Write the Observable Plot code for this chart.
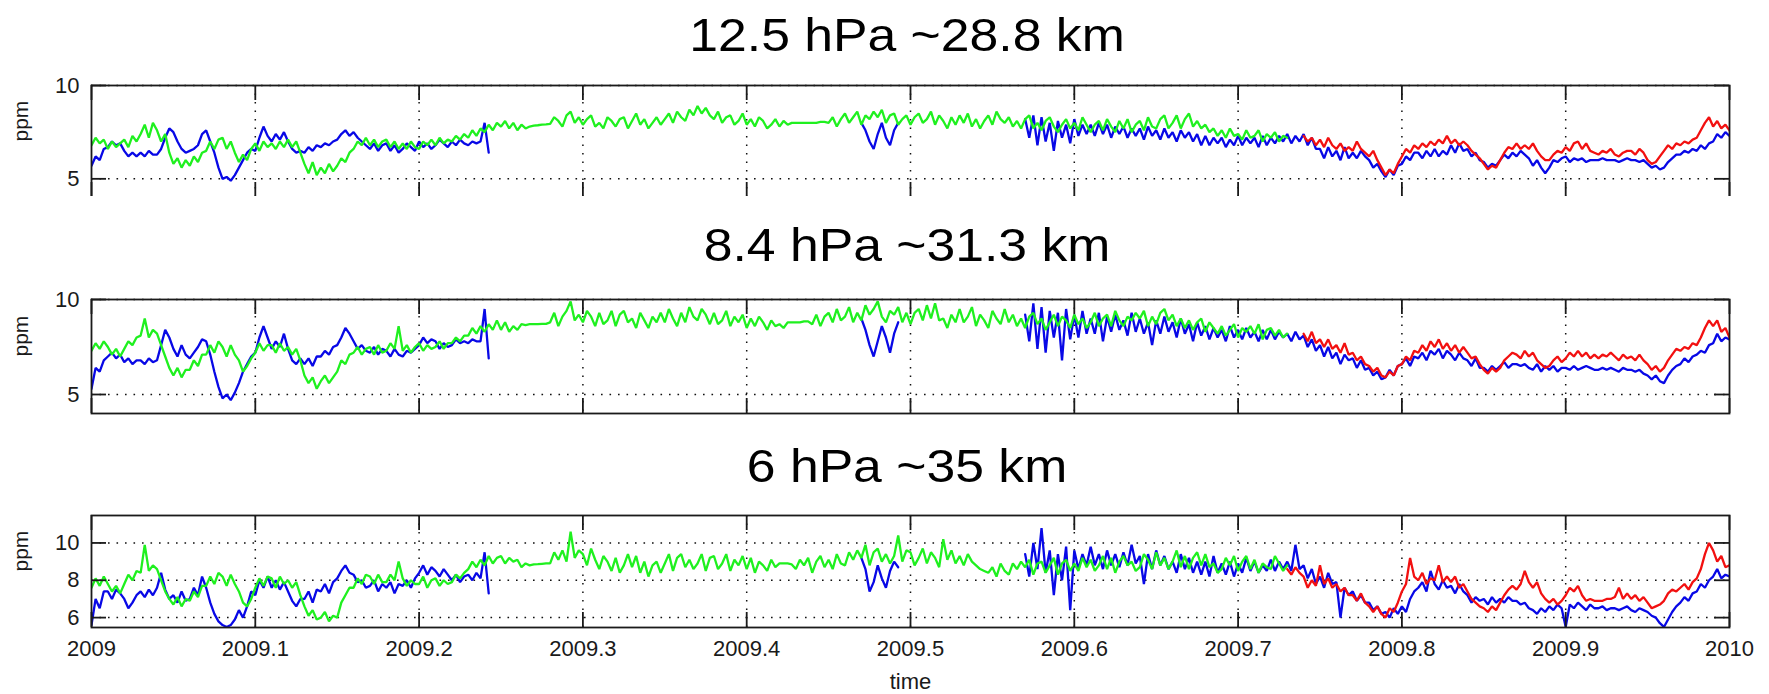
<!DOCTYPE html>
<html>
<head>
<meta charset="utf-8">
<script src="https://cdn.jsdelivr.net/npm/d3@7"></script>
<script src="https://cdn.jsdelivr.net/npm/@observablehq/plot@0.6"></script>
<style>
  body { margin: 0; background: #fff; }
  #fig { position: relative; width: 1769px; height: 694px; overflow: hidden; background: #fff;
         font-family: "Liberation Sans", Arial, Helvetica, sans-serif; }
  .title { position: absolute; white-space: nowrap; font-size: 47px; line-height: 47px; color: #000;
           transform: translateX(-50%) scaleX(1.1); transform-origin: center; }
  .panel { position: absolute; left: 0; width: 1769px; overflow: hidden; }
</style>
</head>
<body>
<div id="fig"></div>
<script>
// Water vapour mixing ratio (ppm) at three pressure levels, 2009–2010.
// Each series is sampled every 0.0025 yr from its start time.
const step = 0.0025;

const xTicks = [2009, 2009.1, 2009.2, 2009.3, 2009.4, 2009.5, 2009.6, 2009.7, 2009.8, 2009.9, 2010];
const titles = ["12.5 hPa ~28.8 km", "8.4 hPa ~31.3 km", "6 hPa ~35 km"];

// ---- 12.5 hPa ----
const green125Start = 2009.0;
const green125 = [
  6.8,7.2,6.9,7.1, 6.6,7.0,6.7,6.9, 7.1,6.7,7.3,7.0, 7.4,7.9,7.2,8.0, 7.6,7.0,7.4,6.4,
  5.8,6.1,5.6,6.0, 5.7,6.2,5.9,6.4, 6.5,7.0,6.6,7.1, 7.2,6.6,7.0,6.4, 5.9,6.3,6.0,6.6,
  6.9,6.5,7.0,6.7, 6.9,6.6,7.0,6.7, 7.1,6.7,7.0,6.4, 5.8,5.3,5.9,5.2, 5.6,5.3,5.8,5.4,
  5.7,6.1,5.9,6.4, 6.6,7.0,6.8,7.2, 6.8,7.1,6.7,7.0, 7.1,6.7,7.0,6.6, 6.9,6.6,7.0,6.7,
  6.6,7.0,6.8,7.1, 6.8,7.2,6.9,7.1, 7.0,7.3,7.1,7.4, 7.2,7.6,7.3,7.7, 7.5,7.9,7.6,8.0,
  7.8,8.1,7.7,8.0, 7.6,7.9,7.7,7.8, 7.85,7.87,7.9,7.92, 7.95,8.3,8.1,7.8, 8.4,8.6,8.0,8.3,
  7.9,8.2,8.4,7.8, 8.0,7.7,8.3,8.1, 7.8,8.2,8.3,7.7, 8.1,8.5,7.9,8.2, 7.7,8.0,8.3,7.9,
  8.2,8.5,8.0,8.6, 8.3,8.1,8.7,8.4, 8.9,8.5,8.8,8.4, 8.2,8.6,8.0,8.3, 8.4,7.9,8.1,8.5,
  7.9,8.2,7.8,8.3, 8.1,7.7,7.9,8.2, 7.8,8.1,7.9,8.0, 8.0,8.0,8.0,8.0, 8.0,8.0,8.05,8.05,
  8.0,8.3,7.8,8.2, 8.5,8.0,8.3,8.6, 7.9,8.4,8.2,8.6, 8.3,8.7,8.0,8.4, 8.5,7.9,8.2,8.4,
  7.9,8.3,8.5,8.0, 8.2,8.6,7.9,8.4, 8.1,7.7,8.3,7.9, 8.4,8.0,8.5,7.8, 8.2,7.7,8.1,8.4,
  7.9,8.6,8.2,8.0, 8.3,7.8,8.1,7.7, 8.2,8.4,7.7,8.0, 7.6,8.1,8.3,7.8, 7.5,7.9,8.2,7.7,
  8.0,7.6,8.3,7.9, 7.5,7.9,8.1,7.6, 8.2,7.8,7.5,8.1, 7.7,8.2,7.5,7.9, 8.1,7.6,8.3,7.8,
  7.7,8.2,8.4,7.7, 8.0,8.4,7.7,8.2, 8.5,7.8,8.1,7.7, 7.9,7.5,7.7,7.3, 7.6,7.2,7.7,7.3,
  7.4,7.1,7.6,7.2, 7.3,7.6,7.0,7.4, 7.2,7.5,7.0,7.3, 7.2
];
const blue125aStart = 2009.0;
const blue125a = [
  5.7,6.2,6.0,6.6, 6.7,7.0,6.8,6.9, 6.5,6.2,6.4,6.2, 6.4,6.2,6.5,6.3, 6.3,6.6,7.2,7.7,
  7.5,7.0,6.6,6.4, 6.5,6.6,6.8,7.4, 7.6,7.0,6.4,5.6, 5.0,5.1,4.9,5.2, 5.6,6.0,6.4,6.6,
  6.5,7.2,7.8,7.3, 7.0,7.4,7.1,7.5, 7.0,6.6,6.4,6.5, 6.4,6.7,6.5,6.8, 6.7,6.9,6.8,7.0,
  7.1,7.4,7.6,7.3, 7.5,7.2,7.0,6.8, 6.6,6.9,6.5,6.8, 6.9,6.5,6.8,6.4, 6.6,6.9,6.7,6.5,
  7.0,6.7,6.9,6.6, 6.8,7.1,6.9,6.7, 7.0,6.8,7.1,6.9, 6.8,7.0,6.9,7.0, 8.0,6.4
];
const blue125bStart = 2009.47;
const blue125b = [8.0,7.6,7.0,6.6,7.4,8.0,7.2,6.8,7.6,8.0];
const blue125cStart = 2009.57;
const blue125c = [
  8.2,7.2,8.4,6.8, 8.3,7.0,8.0,6.5, 8.1,7.2,7.9,6.9, 8.2,7.3,7.9,7.4, 7.9,7.3,8.0,7.4,
  7.9,7.2,7.8,7.4, 7.8,7.2,7.7,7.3, 7.7,7.1,7.8,7.3, 7.6,7.1,7.7,7.2, 7.5,7.0,7.6,7.2,
  7.5,7.0,7.4,6.8, 7.3,6.8,7.2,6.9, 7.2,6.7,7.1,6.8, 7.3,6.8,7.2,6.9, 7.2,6.7,7.3,6.8,
  7.2,6.9,7.3,7.0, 7.4,6.9,7.3,7.0, 7.4,6.8,7.2,6.6, 6.6,6.1,6.7,6.2, 6.5,6.0,6.7,6.1,
  6.4,6.1,6.5,6.2, 6.0,5.6,5.8,5.4, 5.1,5.5,5.2,5.7, 5.8,6.2,6.0,6.4, 6.4,6.1,6.5,6.2,
  6.6,6.2,6.5,6.3, 6.8,6.4,6.9,6.5, 6.6,6.2,6.4,6.0, 5.9,5.6,5.8,5.7, 6.0,6.3,6.1,6.4,
  6.2,6.5,6.3,6.1, 5.7,6.0,5.6,5.3, 5.6,6.0,5.9,6.1, 6.2,5.9,6.1,6.0, 6.1,5.9,6.0,6.0,
  6.0,6.1,6.0,6.0, 6.0,5.9,6.0,6.1, 6.0,6.0,5.9,6.0, 5.8,5.6,5.7,5.5, 5.6,5.9,6.1,6.3,
  6.3,6.5,6.4,6.6, 6.5,6.8,6.6,6.9, 7.0,7.4,7.2,7.5, 7.3
];
const red125Start = 2009.74;
const red125 = [
  7.3,7.0,7.2,6.8, 7.1,6.7,7.2,6.8, 6.6,6.9,6.5,6.7, 6.5,7.0,6.6,6.4, 6.2,6.5,6.0,5.6,
  5.2,5.5,5.3,5.8, 6.2,6.6,6.4,6.8, 6.6,6.9,6.7,7.0, 6.8,7.1,6.9,7.3, 6.9,7.1,6.8,7.0,
  6.8,6.5,6.3,6.1, 5.8,5.5,5.7,5.6, 6.0,6.4,6.7,6.6, 6.9,6.6,6.8,6.6, 6.9,6.5,6.2,6.0,
  6.0,6.3,6.5,6.4, 6.7,6.5,6.9,7.0, 6.6,6.9,6.5,6.4, 6.3,6.5,6.4,6.6, 6.3,6.2,6.4,6.5,
  6.5,6.3,6.6,6.4, 6.0,5.8,5.9,6.2, 6.5,6.8,6.6,6.9, 6.8,7.0,6.9,7.1, 7.2,7.6,8.0,8.3,
  7.8,8.1,7.7,7.9, 7.6
];

// ---- 8.4 hPa ----
const green84Start = 2009.0;
const green84 = [
  7.3,7.7,7.4,7.8, 7.5,7.1,7.4,7.0, 7.4,7.8,7.6,8.0, 8.1,9.0,8.0,8.4, 8.2,7.6,7.0,6.4,
  6.0,6.4,5.9,6.3, 6.3,6.8,6.5,7.1, 7.1,7.6,7.2,7.8, 7.5,7.0,7.6,7.1, 6.8,6.2,6.5,6.9,
  7.2,7.7,7.3,7.6, 7.6,7.2,7.7,7.3, 7.5,7.1,7.4,6.8, 6.0,5.6,5.9,5.3, 5.7,6.0,5.6,5.9,
  6.2,6.8,6.6,7.1, 7.2,7.5,7.1,7.4, 7.5,7.1,7.6,7.2, 7.3,7.7,7.4,8.6, 7.3,7.6,7.2,7.5,
  7.7,7.3,7.6,7.4, 7.5,7.8,7.4,7.7, 7.7,8.0,7.8,8.1, 8.1,8.5,8.2,8.6, 8.3,8.7,8.4,8.9,
  8.4,8.8,8.3,8.6, 8.4,8.7,8.65,8.7, 8.7,8.7,8.72,8.72, 8.8,9.3,8.6,9.1, 9.4,9.9,8.9,9.2,
  8.8,9.4,9.1,8.6, 9.3,8.7,8.9,9.4, 8.6,9.2,9.4,8.8, 9.0,8.5,9.3,8.9, 8.5,9.1,8.8,9.3,
  8.8,9.5,9.0,8.6, 9.3,8.8,9.6,9.1, 8.9,9.5,9.2,8.7, 9.3,8.7,8.9,9.4, 8.6,9.1,8.8,9.2,
  8.5,9.0,8.6,9.1, 8.8,8.4,8.9,8.6, 8.7,8.5,8.8,8.8, 8.8,8.8,8.85,8.85, 8.7,9.2,8.6,9.1,
  9.3,8.8,9.5,8.9, 9.1,9.6,8.8,9.3, 8.9,9.7,9.2,9.5, 9.9,9.1,8.8,9.4, 9.2,9.6,8.8,9.3,
  8.7,9.3,9.5,8.9, 9.7,9.0,9.8,8.9, 9.0,8.5,9.2,8.8, 9.5,8.8,9.1,9.6, 8.6,9.2,8.9,8.5,
  9.4,9.0,8.7,9.5, 8.8,9.2,8.6,9.0, 8.5,9.1,9.3,8.7, 9.0,8.4,8.8,9.2, 8.6,9.1,8.9,8.5,
  9.2,8.7,9.0,8.5, 8.8,9.3,8.6,9.0, 9.2,8.6,9.4,8.9, 8.6,9.1,8.9,9.3, 9.0,9.4,8.6,9.1,
  8.7,9.3,9.5,8.9, 9.2,8.6,9.0,8.5, 8.9,8.4,8.8,9.0, 8.3,8.8,8.5,8.2, 8.6,8.1,8.4,8.7,
  8.0,8.5,8.3,8.6, 8.2,8.7,7.9,8.4, 8.5,8.1,8.4,8.0, 8.2
];
const blue84aStart = 2009.0;
const blue84a = [
  5.3,6.4,6.2,6.8, 7.0,7.2,6.9,7.1, 6.7,6.9,6.6,6.8, 6.8,6.6,6.9,6.7, 6.8,7.6,8.4,8.0,
  7.4,7.0,7.6,7.1, 6.9,7.2,7.5,7.9, 7.8,7.1,6.2,5.4, 4.8,5.0,4.7,5.1, 5.6,6.2,6.6,7.0,
  7.2,8.0,8.6,8.0, 7.4,7.8,7.5,8.2, 7.4,6.8,6.6,6.9, 6.6,6.9,6.5,7.0, 7.0,7.3,7.1,7.5,
  7.6,8.0,8.5,8.2, 7.8,7.4,7.6,7.3, 7.2,7.5,7.1,7.4, 7.3,7.0,7.4,7.1, 7.0,7.3,7.2,7.4,
  7.6,8.0,7.7,7.9, 7.8,7.4,7.7,7.5, 7.6,7.9,7.7,7.8, 7.7,7.9,7.8,7.8, 9.5,6.9
];
const blue84bStart = 2009.47;
const blue84b = [9.0,8.4,7.6,7.0,7.8,8.6,8.0,7.2,8.2,8.8];
const blue84cStart = 2009.57;
const blue84c = [
  9.2,7.8,9.8,7.4, 9.6,7.2,9.4,8.0, 9.3,6.8,9.5,7.9, 9.2,8.0,9.4,8.2, 9.0,8.2,9.3,7.8,
  9.1,8.3,9.2,8.4, 8.9,8.1,9.3,8.3, 9.0,8.2,8.8,7.6, 8.9,8.2,9.1,8.3, 8.8,8.0,9.0,8.2,
  8.7,7.8,8.8,8.1, 8.6,7.9,8.5,8.0, 8.4,7.8,8.6,8.0, 8.4,7.9,8.5,8.0, 8.3,7.8,8.4,7.9,
  8.4,7.9,8.3,8.0, 8.2,7.8,8.3,7.9, 8.1,7.5,7.9,7.3, 7.6,7.0,7.5,6.9, 7.2,6.6,7.1,6.8,
  6.9,6.4,6.8,6.3, 6.4,6.0,6.2,5.8, 5.9,6.3,6.0,6.5, 6.6,6.9,6.5,7.0, 6.9,7.2,6.8,7.3,
  7.1,7.4,6.9,7.3, 7.1,6.8,7.2,6.9, 6.8,6.5,6.9,6.4, 6.4,6.2,6.5,6.3, 6.5,6.7,6.4,6.6,
  6.6,6.5,6.6,6.4, 6.3,6.6,6.2,6.5, 6.3,6.5,6.2,6.4, 6.4,6.3,6.5,6.3, 6.4,6.5,6.4,6.3,
  6.3,6.4,6.3,6.4, 6.3,6.2,6.4,6.3, 6.3,6.2,6.3,6.1, 6.0,5.8,6.0,5.7, 5.6,6.0,6.3,6.5,
  6.6,6.9,6.7,7.0, 7.1,7.3,7.2,7.6, 7.7,8.2,7.8,8.0, 7.9
];
const red84Start = 2009.74;
const red84 = [
  8.2,7.8,8.3,7.7, 7.9,7.5,7.9,7.4, 7.6,7.2,7.7,7.1, 7.2,6.8,7.0,6.6, 6.5,6.2,6.4,6.0,
  5.9,6.2,6.0,6.5, 6.6,7.0,6.8,7.3, 7.2,7.6,7.3,7.8, 7.5,7.9,7.4,7.7, 7.3,7.6,7.2,7.5,
  7.2,6.9,7.0,6.6, 6.3,6.1,6.4,6.2, 6.4,6.8,7.0,7.2, 7.1,6.9,7.3,7.0, 7.2,6.8,6.6,6.4,
  6.5,6.8,7.0,6.7, 6.9,7.2,7.0,7.3, 7.0,7.2,6.9,7.1, 6.9,7.1,7.0,7.2, 7.0,6.8,7.1,6.9,
  7.0,6.8,7.1,6.8, 6.6,6.3,6.5,6.2, 6.4,6.8,7.1,7.4, 7.3,7.5,7.4,7.7, 7.6,8.0,8.5,8.9,
  8.6,8.9,8.3,8.5, 8.0
];

// ---- 6 hPa ----
const green6Start = 2009.0;
const green6 = [
  7.6,8.1,7.7,8.2, 7.8,7.4,7.7,7.3, 7.8,8.3,8.0,8.5, 8.4,9.9,8.5,8.8, 8.6,8.0,7.4,7.0,
  6.7,7.1,6.6,7.0, 6.9,7.4,7.1,7.7, 7.7,8.2,7.8,8.4, 8.2,7.7,8.3,7.8, 7.4,6.8,6.6,7.0,
  7.6,8.1,7.7,8.2, 8.1,7.6,8.2,7.8, 8.0,7.6,7.9,7.2, 6.6,6.1,6.4,5.9, 6.0,6.3,5.8,6.1,
  6.0,6.8,7.2,7.6, 7.6,8.1,7.8,8.3, 8.2,7.8,8.3,7.9, 7.9,8.3,8.0,9.0, 8.1,7.7,8.0,7.8,
  7.8,8.2,7.6,8.0, 8.1,7.7,8.0,7.8, 7.9,8.3,8.1,8.4, 8.6,9.0,8.7,9.1, 8.8,9.3,8.9,9.2,
  9.3,8.9,9.2,9.0, 9.1,8.7,8.9,8.8, 8.85,8.86,8.88,8.9, 8.9,9.5,9.1,9.6, 9.0,10.6,9.2,9.6,
  9.4,8.8,9.7,9.1, 8.6,9.3,9.0,8.5, 9.2,8.4,8.8,9.4, 8.7,9.3,8.4,9.0, 8.2,8.8,9.0,8.4,
  8.9,9.4,8.5,9.2, 9.4,8.7,9.1,8.6, 8.9,9.4,8.5,9.2, 9.3,8.6,8.9,9.4, 8.5,9.1,8.8,9.3,
  8.6,9.2,8.4,9.0, 8.8,8.5,9.1,8.7, 8.9,8.9,8.9,8.85, 8.6,9.1,8.8,9.2, 8.4,9.0,9.3,8.7,
  9.1,8.6,9.4,8.9, 8.8,9.5,9.1,9.6, 9.2,9.9,8.8,9.5, 9.7,9.0,9.4,8.9, 9.3,10.4,9.0,9.6,
  9.5,8.8,9.2,9.7, 8.9,9.5,9.2,8.7, 10.2,9.1,9.6,8.9, 9.3,8.8,9.4,9.0, 8.8,8.6,8.5,8.4,
  8.7,8.2,8.9,8.5, 8.3,8.9,8.6,9.0, 8.7,9.1,8.3,8.9, 9.0,8.4,8.8,9.2, 8.3,8.9,9.1,8.5,
  8.9,8.5,9.2,8.7, 9.1,8.5,8.8,9.3, 8.6,9.2,8.4,9.0, 9.3,8.8,9.0,8.5, 8.7,9.4,9.1,8.6,
  9.5,8.8,9.2,8.6, 9.0,9.6,8.7,9.3, 8.6,9.2,9.5,8.8, 9.4,8.7,8.9,8.4, 8.6,9.2,8.8,9.3,
  8.5,9.0,9.3,8.6, 9.1,8.4,8.9,8.7, 8.6,9.3,8.9,8.5, 8.8
];
const blue6aStart = 2009.0;
const blue6a = [
  5.6,7.0,6.5,7.4, 7.4,7.0,7.5,7.3, 7.0,6.5,6.8,7.2, 7.4,7.1,7.5,7.2, 7.6,8.4,7.5,7.0,
  7.2,6.8,7.4,6.9, 7.0,7.6,7.2,8.2, 7.6,6.8,6.2,5.8, 5.6,5.5,5.6,5.9, 6.4,6.0,6.6,7.4,
  7.2,8.0,7.6,8.2, 7.6,8.0,7.5,7.9, 7.4,6.9,6.6,7.0, 7.0,7.4,6.8,7.5, 7.4,7.8,7.3,7.9,
  8.1,8.5,8.8,8.4, 8.3,7.9,8.0,7.6, 7.7,8.0,7.4,7.8, 7.6,7.9,7.3,7.8, 7.7,8.0,7.6,8.1,
  8.4,8.8,8.3,8.7, 8.5,8.2,8.6,8.3, 8.0,8.3,7.9,8.2, 8.3,8.0,8.4,8.1, 9.5,7.3
];
const blue6bStart = 2009.47;
const blue6b = [9.2,8.6,7.4,7.9,8.8,8.1,7.6,8.5,9.0,8.7];
const blue6cStart = 2009.57;
const blue6c = [
  9.4,8.2,10.0,8.6, 10.8,8.4,9.6,7.2, 9.4,8.0,9.8,6.4, 9.6,8.6,9.4,8.8, 9.8,8.8,9.4,8.6,
  9.6,8.8,9.4,8.7, 9.5,8.8,9.9,8.9, 9.3,7.8,9.4,8.6, 9.6,8.8,9.3,8.6, 9.0,8.4,9.4,8.6,
  9.2,8.4,9.0,8.3, 9.0,8.2,9.3,8.4, 8.9,8.3,9.0,8.2, 8.9,8.4,9.2,8.5, 9.0,8.4,8.8,8.5,
  9.1,8.5,9.0,8.6, 9.0,8.5,9.9,8.6, 8.8,8.1,8.6,7.8, 8.2,7.6,8.4,7.8, 7.9,6.0,7.6,7.2,
  7.4,6.9,7.2,6.8, 6.8,6.4,6.6,6.2, 6.3,6.0,6.5,6.2, 6.6,6.3,7.0,7.4, 7.6,7.9,7.4,8.5,
  7.8,7.5,8.0,7.6, 7.7,7.3,7.8,7.4, 7.2,6.8,7.1,6.9, 7.0,6.7,7.1,6.8, 7.0,6.8,7.1,6.9,
  6.9,6.7,6.8,6.5, 6.4,6.2,6.5,6.3, 6.6,6.4,6.7,6.5, 5.5,6.7,6.5,6.8, 6.6,6.4,6.7,6.5,
  6.5,6.6,6.4,6.5, 6.5,6.4,6.5,6.6, 6.4,6.3,6.5,6.4, 6.3,6.1,6.0,5.7, 5.5,5.9,6.3,6.6,
  6.8,7.1,6.9,7.3, 7.4,7.8,7.6,8.0, 8.2,8.6,8.1,8.3, 8.2
];
const red6Start = 2009.73;
const red6 = [
  8.6,8.3,8.7,8.4, 8.2,7.6,8.0,7.7, 8.8,7.8,8.1,7.6, 7.8,7.4,7.6,7.2, 7.2,6.9,7.3,6.8,
  6.6,6.3,6.6,6.2, 6.0,6.5,6.3,6.8, 7.4,7.8,9.2,8.2, 8.0,8.4,7.8,8.1, 8.0,8.8,7.9,8.2,
  7.9,8.2,7.6,7.8, 7.4,7.0,6.8,6.6, 6.5,6.3,6.6,6.4, 6.8,7.2,7.5,7.7, 7.5,7.8,8.5,7.9,
  7.6,7.9,7.3,7.0, 6.8,7.0,6.7,6.9, 7.2,7.6,7.4,7.7, 7.2,6.9,7.0,6.9, 6.9,6.9,7.0,7.0,
  7.1,7.6,7.0,7.3, 7.0,7.2,6.9,7.1, 6.8,6.5,6.6,6.7, 6.9,7.3,7.5,7.4, 7.6,7.8,7.5,7.9,
  8.1,8.6,9.4,10.0, 9.6,9.0,9.3,8.7, 8.8
];

// Turn a start time plus sampled values into rows for Plot.
function rows(start, values, seg) {
  return values.map((v, i) => ({t: start + i * step, v, seg}));
}

const COLORS = {blue: "#0808e6", green: "#1ff01f", red: "#f21010"};
const AXIS = "#1a1a1a";
const W = 1769, ML = 91, MR = 40;

function panel({top, plotH, yDomain, yTicks, blue, green, red, showX, clipTo}) {
  const mt = 14, mb = showX ? 67 : 4;
  const plotW = W - ML - MR;
  const trace = (data, color, z) =>
    Plot.line(data, {x: "t", y: "v", z, stroke: color, strokeWidth: 2.3, strokeLinejoin: "miter", clip: true});
  const chart = Plot.plot({
    width: W,
    height: mt + plotH + mb,
    marginLeft: ML, marginRight: MR, marginTop: mt, marginBottom: mb,
    style: {fontFamily: "Liberation Sans, Arial, Helvetica, sans-serif", fontSize: "22px", color: AXIS, background: "white"},
    x: {domain: [2009, 2010], ticks: xTicks, tickFormat: d => String(d), tickSize: 0, tickPadding: 13,
        label: null, axis: showX ? "bottom" : null},
    y: {domain: yDomain, ticks: yTicks, tickFormat: d => String(d), tickSize: 0, tickPadding: 12, label: null},
    marks: [
      // dotted grid
      Plot.ruleX(xTicks.slice(1, -1), {stroke: "#111", strokeWidth: 1.5, strokeDasharray: "1.6,6.9"}),
      Plot.ruleY(yTicks, {stroke: "#111", strokeWidth: 1.5, strokeDasharray: "1.6,6.9"}),
      // traces: blue, then green, then red on top
      trace(blue, COLORS.blue, "seg"),
      trace(green, COLORS.green, null),
      trace(red, COLORS.red, null),
      // inward ticks on all four sides
      Plot.ruleX(xTicks, {insetBottom: plotH - 15, stroke: AXIS, strokeWidth: 1.8}),
      Plot.ruleX(xTicks, {insetTop: plotH - 15, stroke: AXIS, strokeWidth: 1.8}),
      Plot.ruleY(yTicks, {insetRight: plotW - 15, stroke: AXIS, strokeWidth: 1.8}),
      Plot.ruleY(yTicks, {insetLeft: plotW - 15, stroke: AXIS, strokeWidth: 1.8}),
      Plot.frame({stroke: AXIS, strokeWidth: 1.8}),
      Plot.text(["ppm"], {text: d => d, frameAnchor: "left", rotate: -90, dx: -70, fontSize: 21, fill: AXIS}),
      ...(showX ? [Plot.text(["time"], {text: d => d, frameAnchor: "bottom", dy: 61, fontSize: 22, fill: AXIS})] : [])
    ]
  });
  const div = document.createElement("div");
  div.className = "panel";
  div.style.top = (top - mt) + "px";
  div.style.height = (clipTo ? clipTo - (top - mt) : mt + plotH + mb) + "px";
  div.appendChild(chart);
  return div;
}

const fig = document.getElementById("fig");

fig.appendChild(panel({
  top: 85, plotH: 112, yDomain: [4, 10], yTicks: [5, 10], clipTo: 196,
  blue: [...rows(blue125aStart, blue125a, "a"), ...rows(blue125bStart, blue125b, "b"), ...rows(blue125cStart, blue125c, "c")],
  green: rows(green125Start, green125, "g"),
  red: rows(red125Start, red125, "r"),
  showX: false
}));
fig.appendChild(panel({
  top: 299, plotH: 114, yDomain: [4, 10], yTicks: [5, 10],
  blue: [...rows(blue84aStart, blue84a, "a"), ...rows(blue84bStart, blue84b, "b"), ...rows(blue84cStart, blue84c, "c")],
  green: rows(green84Start, green84, "g"),
  red: rows(red84Start, red84, "r"),
  showX: false
}));
fig.appendChild(panel({
  top: 515, plotH: 112, yDomain: [5.47, 11.47], yTicks: [6, 8, 10],
  blue: [...rows(blue6aStart, blue6a, "a"), ...rows(blue6bStart, blue6b, "b"), ...rows(blue6cStart, blue6c, "c")],
  green: rows(green6Start, green6, "g"),
  red: rows(red6Start, red6, "r"),
  showX: true
}));

// Panel titles, centred over the plots
const titleBaselines = [51, 261, 482];
titles.forEach((t, i) => {
  const d = document.createElement("div");
  d.className = "title";
  d.textContent = t;
  d.style.left = "907px";
  d.style.top = (titleBaselines[i] - 40) + "px";
  fig.appendChild(d);
});
</script>
</body>
</html>
